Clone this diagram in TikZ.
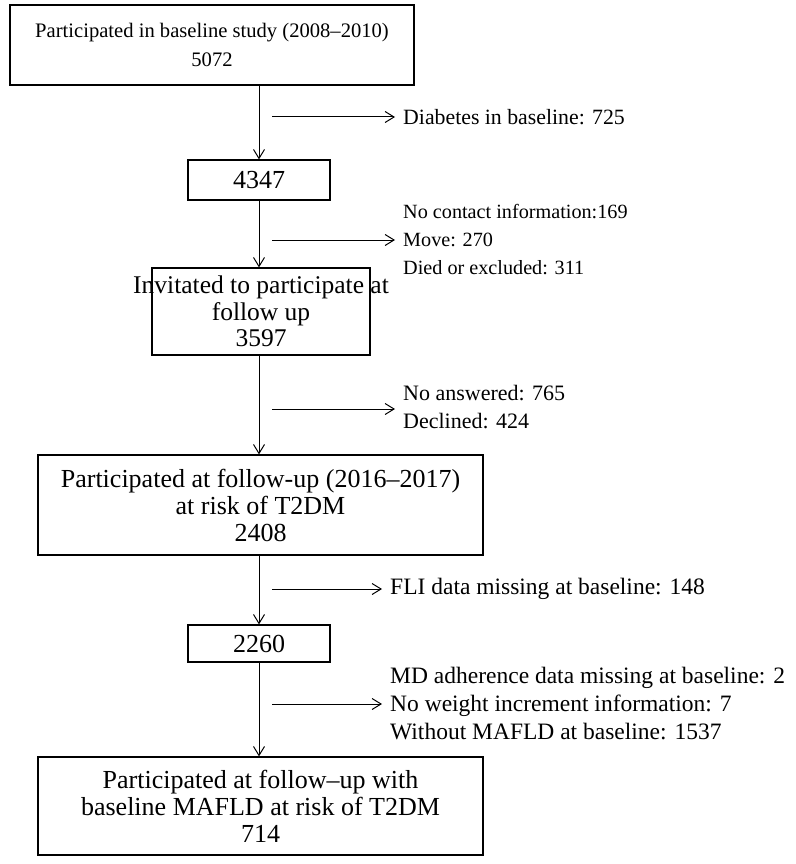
\documentclass[tikz,border=0pt]{standalone}
\usepackage{fontspec}
\setmainfont{Liberation Serif}
\usetikzlibrary{arrows.meta}
\begin{document}
\begin{tikzpicture}[x=1pt,y=-1pt,
  box/.style={draw,line width=1.2pt,inner sep=0pt},
  txt/.style={font=\fontsize{26}{27}\selectfont,align=center},
  side/.style={font=\fontsize{23.5}{28}\selectfont,align=left,anchor=west,inner sep=0pt},
  arr/.style={line width=1pt,-{Straight Barb[length=9pt,width=11pt]}}]
\useasboundingbox (0,0) rectangle (795,864);
\node[box,minimum width=404pt,minimum height=80pt] (b1) at (212,45) {};
\node[txt,font=\fontsize{20.6}{29}\selectfont] at (b1) {Participated in baseline study (2008--2010)\\5072};
\node[box,minimum width=142pt,minimum height=40pt] (b2) at (259,180) {};
\node[txt] at (b2) {4347};
\node[box,minimum width=218pt,minimum height=87pt] (b3) at (261,311.5) {};
\node[txt,font=\fontsize{25.5}{26.5}\selectfont] at (b3) {Invitated to participate at\\follow up\\3597};
\node[box,minimum width=445pt,minimum height=100pt] (b4) at (260.5,505) {};
\node[txt] at (b4) {Participated at follow-up (2016--2017)\\at risk of T2DM\\2408};
\node[box,minimum width=142pt,minimum height=37pt] (b5) at (259,643.5) {};
\node[txt] at (b5) {2260};
\node[box,minimum width=445pt,minimum height=98pt] (b6) at (260.5,806) {};
\node[txt] at (b6) {Participated at follow--up with\\baseline MAFLD at risk of T2DM\\714};

\coordinate (v1) at (259,85);
\coordinate (v2) at (259,200);
\coordinate (v3) at (259,355);
\coordinate (v4) at (259,555);
\coordinate (v5) at (259,662);
\draw[arr] (v1) -- (b2.north);
\draw[arr] (v2) -- (b3.north -| v2);
\draw[arr] (v3) -- (b4.north -| v3);
\draw[arr] (v4) -- (b5.north);
\draw[arr] (v5) -- (b6.north -| v5);

\coordinate (s1) at (272,117); \coordinate (e1) at (395,117);
\draw[arr] (s1) -- (e1);
\node[side,font=\fontsize{21.8}{28}\selectfont] (t1) at (403,117) {Diabetes in baseline: 725};
\coordinate (s2) at (272,240); \coordinate (e2) at (395,240);
\draw[arr] (s2) -- (e2);
\node[side,font=\fontsize{20.2}{28}\selectfont] (t2) at (403,240) {No contact information:169\\Move: 270\\Died or excluded: 311};
\coordinate (s3) at (272,409); \coordinate (e3) at (395,409);
\draw[arr] (s3) -- (e3);
\node[side,font=\fontsize{22}{28}\selectfont] (t3) at (403,407) {No answered: 765\\Declined: 424};
\coordinate (s4) at (272,589); \coordinate (e4) at (382,589);
\draw[arr] (s4) -- (e4);
\node[side] (t4) at (390,589) {FLI data missing at baseline: 148};
\coordinate (s5) at (272,704); \coordinate (e5) at (382,704);
\draw[arr] (s5) -- (e5);
\node[side] (t5) at (390,704) {MD adherence data missing at baseline: 2\\No weight increment information: 7\\Without MAFLD at baseline: 1537};
\end{tikzpicture}
\end{document}
